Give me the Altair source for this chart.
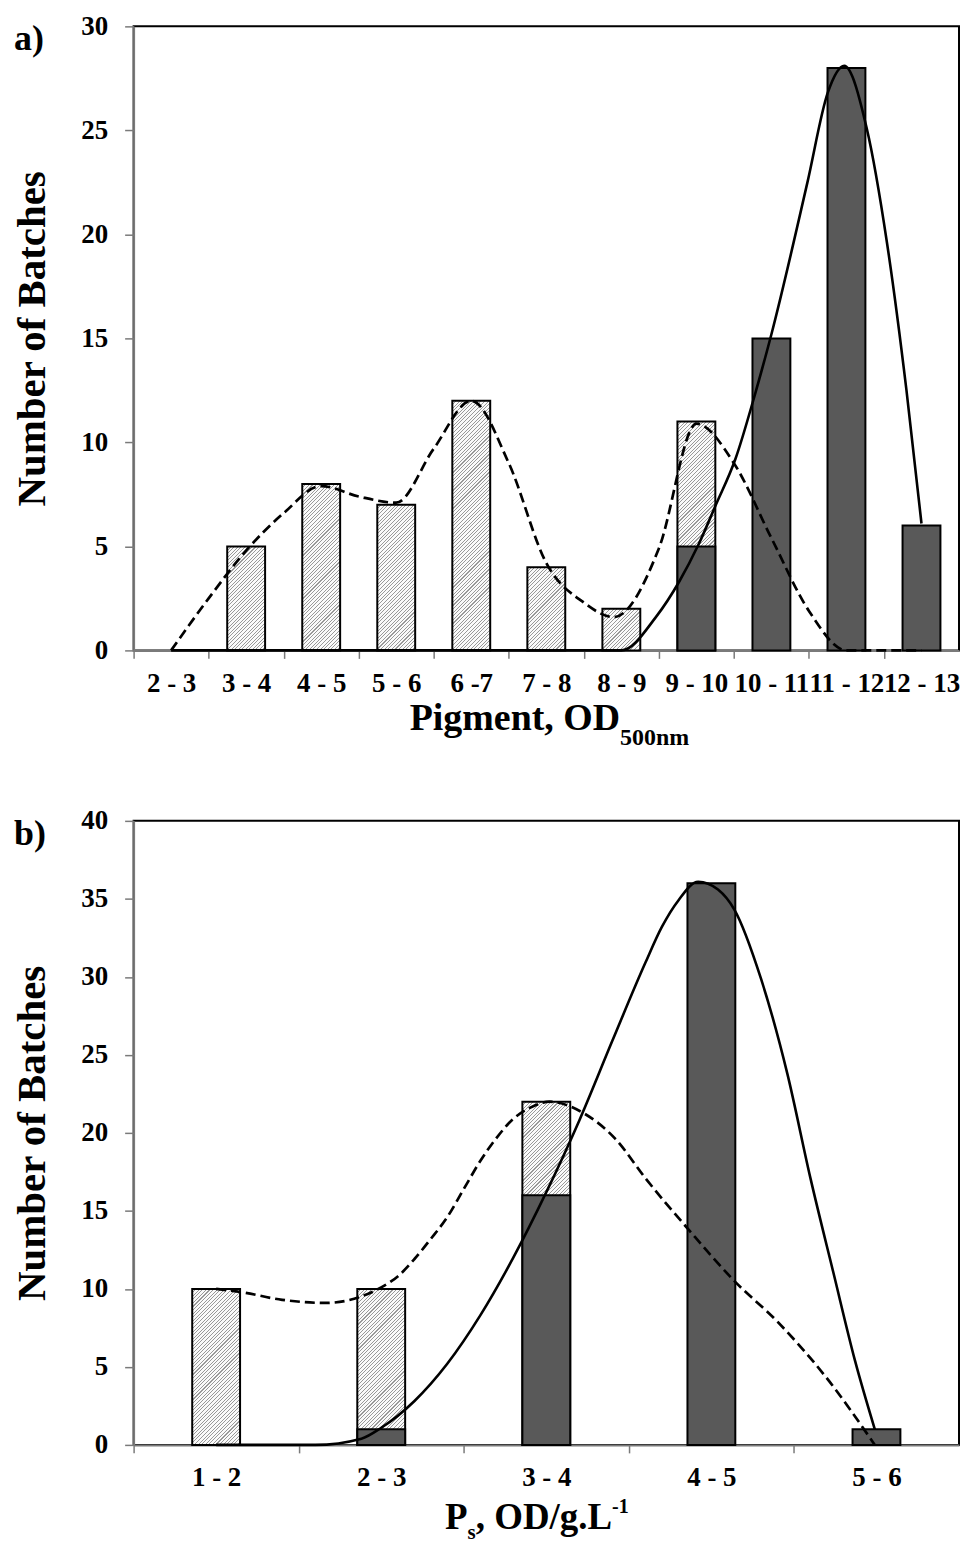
import json
import altair as alt
import pandas as pd

# ---------------- data ----------------
a_cats = ["2 - 3", "3 - 4", "4 - 5", "5 - 6", "6 -7", "7 - 8", "8 - 9",
          "9 - 10", "10 - 11", "11 - 12", "12 - 13"]
a_hatched = [0, 5, 8, 7, 12, 4, 2, 11, 0, 0, 0]
a_dark = [0, 0, 0, 0, 0, 0, 0, 5, 15, 28, 6]

a_dash_x = [0, 0.5, 1, 1.5, 2, 2.5, 3, 3.5, 4, 4.5, 5, 5.5, 5.9, 6.5, 7, 7.5, 8, 8.5, 9, 10]
a_dash_y = [0, 2.5, 4.8, 6.6, 7.9, 7.4, 7.1, 9.7, 12.0, 9.0, 4.2, 2.3, 1.6, 4.9, 10.9, 9.0, 5.4, 1.9, 0.0, 0.0]

a_solid_x = [0, 6.0, 6.46, 6.77, 7.03, 7.26, 7.52, 7.78, 8.0, 8.48, 8.75, 8.97, 9.27, 9.54, 9.8, 10.0]
a_solid_y = [0, 0, 1.6, 3.3, 5.1, 7.0, 9.2, 12.3, 15.2, 22.5, 26.8, 28.1, 25.1, 19.6, 12.5, 6.1]

b_cats = ["1 - 2", "2 - 3", "3 - 4", "4 - 5", "5 - 6"]
b_hatched = [10, 10, 22, 0, 0]
b_dark = [0, 1, 16, 36, 1]

b_dash_x = [0, 0.15, 0.4, 0.66, 1.0, 1.1, 1.2, 1.3, 1.4, 1.5, 1.6, 1.7, 1.8, 1.9, 2.02,
            2.22, 2.42, 2.60, 2.87, 3.14, 3.40, 3.69, 3.99]
b_dash_y = [10, 9.8, 9.3, 9.1, 10.1, 10.8, 11.9, 13.2, 14.6, 16.4, 18.2, 19.7, 20.9, 21.6, 22.0,
            21.3, 19.6, 17.1, 13.7, 10.5, 7.9, 4.4, 0.0]

b_solid_x = [0, 0.3, 0.6, 0.88, 1.0, 1.2, 1.4, 1.6, 1.8, 2.0, 2.2, 2.4, 2.6, 2.7, 2.8, 2.92,
             3.04, 3.14, 3.30, 3.46, 3.60, 3.74, 3.87, 3.99]
b_solid_y = [0, 0, 0, 0.4, 1.1, 2.8, 5.2, 8.3, 12.0, 16.2, 20.8, 25.9, 30.9, 33.2, 34.9, 36.1,
             35.6, 34.3, 29.9, 23.8, 17.1, 11.0, 5.4, 1.0]

a_title = ["Pigment, OD", "500nm"]
b_title = ["P", "s", ", OD/g.L", "-1"]
y_title = "Number of Batches"
panel_letters = ["a)", "b)"]

# ---------------- style ----------------
W, H = 828, 626
FONT = "Liberation Serif"
DARK = "#595959"
AXIS_GREY = "#7a7a7a"


def hatch(w, h, period=3.6, frac=0.3, line="#999999", bg="#fafafa"):
    k = (w + h) * w / (w * w + h * h)
    n = max(1, int(round((w + h) / period)))
    stops = []
    for j in range(n):
        a = j / n
        b = (j + frac) / n
        c = (j + 1) / n
        stops += [alt.GradientStop(offset=a, color=line),
                  alt.GradientStop(offset=b, color=line),
                  alt.GradientStop(offset=b, color=bg),
                  alt.GradientStop(offset=c, color=bg)]
    return alt.Gradient(gradient="linear", x1=0, y1=0, x2=k, y2=k * h / w, stops=stops)


def panel(cats, hatched, dark, dx, dy, sx, sy, ymax, bar_w, letter, title_parts):
    n = len(cats)
    band = W / n
    half = bar_w / band / 2
    px_per = H / ymax
    xscale = alt.Scale(domain=[-0.5, n - 0.5], nice=False, zero=False)
    yscale = alt.Scale(domain=[0, ymax], nice=False)
    xaxis = alt.Axis(
        values=[v - 0.5 for v in range(n)],
        labelExpr=json.dumps(cats) + "[round(datum.value + 0.5)]",
        labelOffset=band / 2, labelFlush=False, labelOverlap=False, labelBound=False,
        title=None, grid=False, tickSize=8, tickColor=AXIS_GREY, tickWidth=1.5,
        domainColor=AXIS_GREY, domainWidth=2,
        labelFont=FONT, labelFontSize=27, labelFontWeight="bold", labelColor="black",
        labelPadding=12,
    )
    yaxis = alt.Axis(
        values=list(range(0, ymax + 1, 5)), title=y_title, grid=False,
        tickSize=9, tickColor=AXIS_GREY, tickWidth=1.5, domainColor=AXIS_GREY, domainWidth=2,
        labelFont=FONT, labelFontSize=27, labelFontWeight="bold", labelColor="black",
        labelPadding=17, titleFont=FONT, titleFontSize=41, titleFontWeight="bold",
        titleColor="black", titlePadding=27,
    )
    df = pd.DataFrame({"i": list(range(n)), "cat": cats, "hatched": hatched, "dark": dark})
    layers = []
    for idx in range(n):
        if hatched[idx] <= 0:
            continue
        grad = hatch(bar_w, hatched[idx] * px_per)
        layers.append(
            alt.Chart(df).transform_filter(f"datum.i == {idx}")
            .transform_calculate(x1=f"datum.i - {half}", x2=f"datum.i + {half}")
            .mark_bar(fill=grad, stroke="black", strokeWidth=2)
            .encode(x=alt.X("x1:Q", scale=xscale, axis=xaxis), x2="x2:Q",
                    y=alt.Y("hatched:Q", scale=yscale, axis=yaxis), y2=alt.datum(0))
        )
    layers.append(
        alt.Chart(df).transform_filter("datum.dark > 0")
        .transform_calculate(x1=f"datum.i - {half}", x2=f"datum.i + {half}")
        .mark_bar(fill=DARK, stroke="black", strokeWidth=2)
        .encode(x=alt.X("x1:Q", scale=xscale, axis=xaxis), x2="x2:Q",
                y=alt.Y("dark:Q", scale=yscale, axis=yaxis), y2=alt.datum(0))
    )
    dash_df = pd.DataFrame({"x": dx, "y": dy})
    solid_df = pd.DataFrame({"x": sx, "y": sy})
    layers.append(
        alt.Chart(dash_df).mark_line(interpolate="monotone", color="black", strokeWidth=2.7,
                                     strokeDash=[10, 5])
        .encode(x=alt.X("x:Q", scale=xscale, axis=xaxis), y=alt.Y("y:Q", scale=yscale, axis=yaxis))
    )
    layers.append(
        alt.Chart(solid_df).mark_line(interpolate="monotone", color="black", strokeWidth=2.6)
        .encode(x=alt.X("x:Q", scale=xscale, axis=xaxis), y=alt.Y("y:Q", scale=yscale, axis=yaxis))
    )
    # panel letter
    layers.append(
        alt.Chart(alt.Data(values=[{"t": letter}]))
        .mark_text(font=FONT, fontSize=36, fontWeight="bold", align="left", baseline="alphabetic")
        .encode(text="t:N", x=alt.value(-120), y=alt.value(24))
    )
    # x-axis title pieces
    for t, xx, yy, size, align in title_parts:
        layers.append(
            alt.Chart(alt.Data(values=[{"t": t}]))
            .mark_text(font=FONT, fontSize=size, fontWeight="bold", align=align,
                       baseline="alphabetic", color="black")
            .encode(text="t:N", x=alt.value(xx), y=alt.value(yy))
        )
    return alt.layer(*layers).properties(width=W, height=H)


pa = panel(a_cats, a_hatched, a_dark, a_dash_x, a_dash_y, a_solid_x, a_solid_y, 30, 38,
           panel_letters[0],
           [(a_title[0], 488, 706, 38, "right"), (a_title[1], 488, 721, 24, "left")])
pb = panel(b_cats, b_hatched, b_dark, b_dash_x, b_dash_y, b_solid_x, b_solid_y, 40, 48,
           panel_letters[1],
           [(b_title[0], 335, 710, 37, "right"), (b_title[1], 335, 720, 21, "left"),
            (b_title[2], 480, 710, 37, "right"), (b_title[3], 480, 694, 20, "left")])

chart = alt.vconcat(pa, pb, spacing=55).properties(
    padding={"left": 3, "top": 1, "right": 0, "bottom": 2}
).configure_view(stroke="black", strokeWidth=2)

chart.save("out.html", embed_options={"renderer": "svg", "actions": False})
